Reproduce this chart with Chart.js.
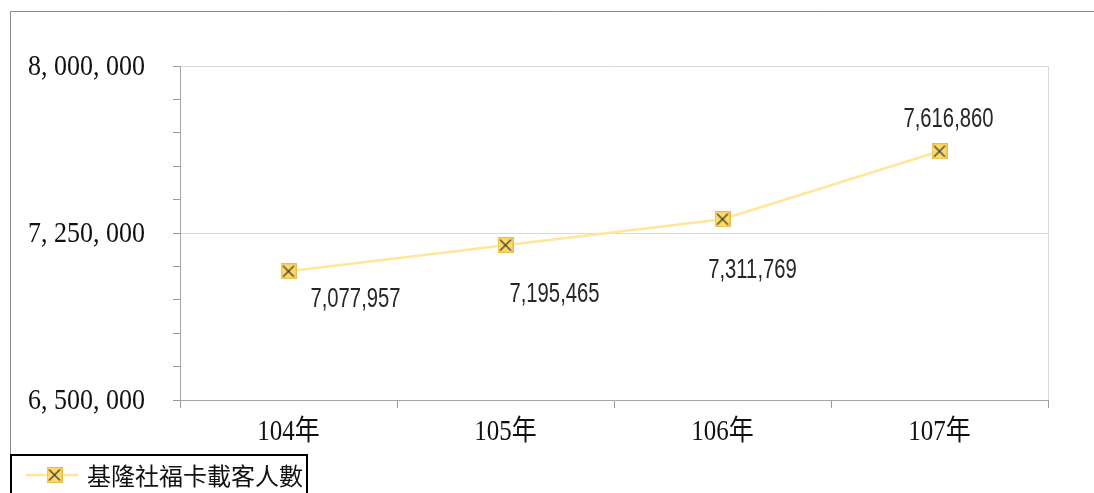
<!DOCTYPE html>
<html>
<head>
<meta charset="utf-8">
<script src="https://cdn.jsdelivr.net/npm/chart.js@4.4.1/dist/chart.umd.min.js"></script>
<style>
html,body{margin:0;padding:0;background:#fff;}
#wrap{position:absolute;left:0;top:0;width:1094px;height:493px;}
</style>
</head>
<body>
<div id="wrap"><canvas id="c" width="1094" height="493"></canvas></div>
<script>
const categories = ['104年', '105年', '106年', '107年'];
const seriesName = '基隆社福卡載客人數';
const passengers = [7077957, 7195465, 7311769, 7616860];
const yMin = 6500000, yMax = 8000000, yMajor = 750000, yMinor = 150000;
const labelOffsets = [[67, 28], [49, 49], [30, 51], [9, -32]];

const serif = "'Liberation Serif', 'Noto Sans CJK TC', serif";
const sans = "'Liberation Sans', 'Arial', sans-serif";

function fmtComma(v) { return Math.round(v).toLocaleString('en-US'); }
function fmtAxis(v) { return fmtComma(v).replace(/,/g, ', '); }

function makeMarker() {
  const s = 16, cv = document.createElement('canvas');
  cv.width = s; cv.height = s;
  const g = cv.getContext('2d');
  g.fillStyle = '#FFD966';
  g.fillRect(0, 0, s, s);
  g.strokeStyle = '#E3BD4E';
  g.lineWidth = 1;
  g.strokeRect(0.5, 0.5, s - 1, s - 1);
  g.strokeStyle = '#3a3a3a';
  g.lineWidth = 1.3;
  g.beginPath();
  g.moveTo(2.5, 2.5); g.lineTo(s - 2.5, s - 2.5);
  g.moveTo(s - 2.5, 2.5); g.lineTo(2.5, s - 2.5);
  g.stroke();
  return cv;
}
const marker = makeMarker();

function stretchedText(c, text, x, y, sx, sy) {
  c.save();
  c.translate(x, y);
  c.scale(sx, sy);
  c.fillText(text, 0, 0);
  c.restore();
}

const framePlugin = {
  id: 'frame',
  beforeDraw(chart) {
    const c = chart.ctx;
    c.save();
    c.fillStyle = '#fff';
    c.fillRect(0, 0, chart.width, chart.height);
    c.strokeStyle = '#8c8c8c';
    c.lineWidth = 1;
    c.beginPath();
    c.moveTo(10.5, chart.height); c.lineTo(10.5, 11.5); c.lineTo(chart.width, 11.5);
    c.stroke();
    c.restore();
  },
  beforeDatasetsDraw(chart) {
    const c = chart.ctx, a = chart.chartArea;
    c.save();
    c.strokeStyle = '#d9d9d9';
    c.lineWidth = 1;
    c.beginPath();
    c.moveTo(Math.round(a.right) + 0.5, a.top); c.lineTo(Math.round(a.right) + 0.5, a.bottom);
    c.stroke();
    c.restore();
  },
  afterDraw(chart) {
    const c = chart.ctx;
    c.save();
    // axis labels from the scales' own ticks
    c.fillStyle = '#111';
    const ys = chart.scales.y;
    c.font = '26px ' + serif;
    c.textAlign = 'right';
    c.textBaseline = 'middle';
    ys.ticks.forEach((t, i) => {
      if (t.label) stretchedText(c, t.label, 145, ys.getPixelForTick(i) + 1, 1, 1.16);
    });
    const xs = chart.scales.x;
    c.font = '25px ' + serif;
    c.textAlign = 'center';
    xs.ticks.forEach((t, i) => {
      stretchedText(c, t.label, xs.getPixelForTick(i), 432, 1, 1.15);
    });
    // legend box
    c.strokeStyle = '#000';
    c.lineWidth = 2;
    c.strokeRect(11, 455, 296, 60);
    const ly = 475;
    c.strokeStyle = '#FFE699';
    c.lineWidth = 2.5;
    c.beginPath(); c.moveTo(26, ly); c.lineTo(78, ly); c.stroke();
    c.drawImage(marker, 54.5 - 8, ly - 8);
    c.fillStyle = '#111';
    c.font = "24px 'Noto Sans CJK TC', serif";
    c.textAlign = 'left';
    c.textBaseline = 'middle';
    c.fillText(chart.data.datasets[0].label, 87, ly + 1);
    c.restore();
  }
};

const labelPlugin = {
  id: 'valLabels',
  afterDatasetsDraw(chart) {
    const c = chart.ctx;
    const meta = chart.getDatasetMeta(0);
    const ds = chart.data.datasets[0];
    c.save();
    c.font = '27px ' + sans;
    c.fillStyle = '#262626';
    c.textAlign = 'center';
    c.textBaseline = 'middle';
    meta.data.forEach((pt, i) => {
      const off = labelOffsets[i];
      stretchedText(c, fmtComma(ds.data[i]), pt.x + off[0], pt.y + off[1], 0.75, 1);
    });
    c.restore();
  }
};

new Chart(document.getElementById('c'), {
  type: 'line',
  data: {
    labels: categories,
    datasets: [{
      label: seriesName,
      data: passengers,
      borderColor: '#FFE699',
      borderWidth: 2.5,
      pointStyle: marker,
      pointRadius: 8,
      pointHoverRadius: 8,
      tension: 0,
      fill: false
    }]
  },
  options: {
    responsive: false,
    animation: false,
    events: [],
    layout: { padding: { left: 0, right: 46, top: 66, bottom: 0 } },
    plugins: { legend: { display: false }, tooltip: { enabled: false } },
    scales: {
      x: {
        offset: true,
        afterFit(s) { s.height = 93; },
        grid: {
          offset: true,
          drawOnChartArea: false,
          tickColor: '#999',
          tickLength: 8,
          lineWidth: 1
        },
        border: { color: '#a6a6a6', width: 1 },
        ticks: {
          color: 'rgba(0,0,0,0)',
          font: { family: serif, size: 22 },
          padding: 10,
          maxRotation: 0,
          autoSkip: false
        }
      },
      y: {
        min: yMin,
        max: yMax,
        afterFit(s) { s.width = 180; },
        grid: {
          color: (ctx) => (ctx.tick && (ctx.tick.value - yMin) % yMajor === 0 && ctx.tick.value !== yMin) ? '#d9d9d9' : 'rgba(0,0,0,0)',
          tickColor: '#999',
          tickLength: 7,
          lineWidth: 1
        },
        border: { color: '#a6a6a6', width: 1 },
        ticks: {
          stepSize: yMinor,
          autoSkip: false,
          color: 'rgba(0,0,0,0)',
          padding: 28,
          font: { family: serif, size: 26 },
          callback: (v) => ((v - yMin) % yMajor === 0) ? fmtAxis(v) : ''
        }
      }
    }
  },
  plugins: [framePlugin, labelPlugin]
});
</script>
</body>
</html>
